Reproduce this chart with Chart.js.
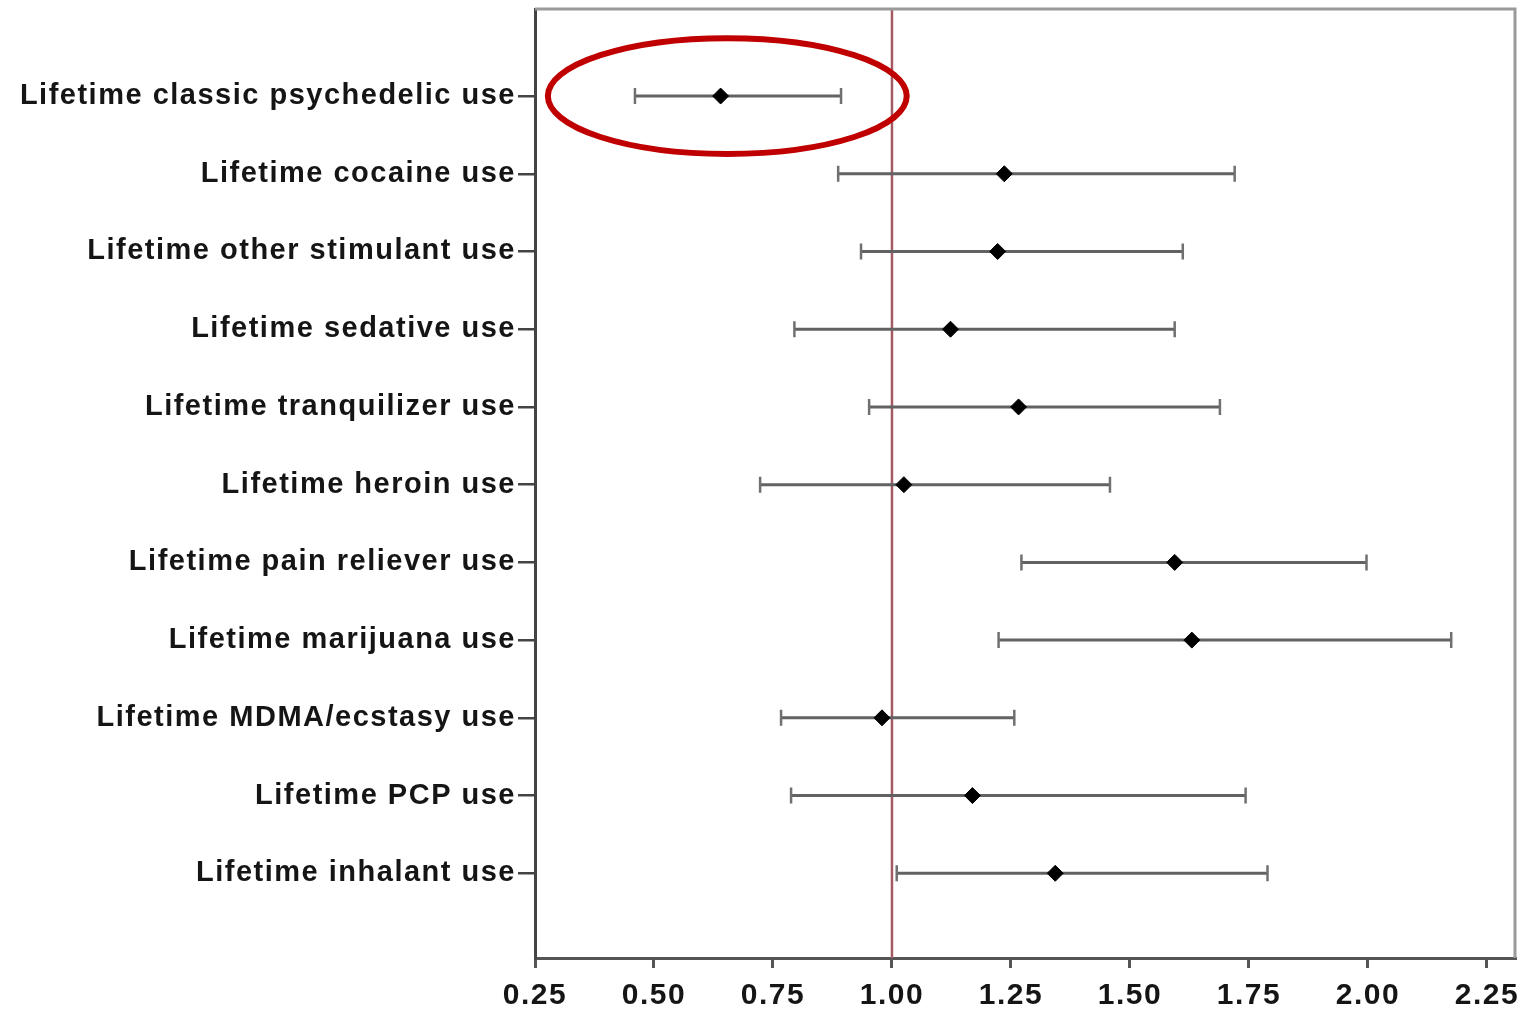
<!DOCTYPE html>
<html>
<head>
<meta charset="utf-8">
<script src="https://cdn.jsdelivr.net/npm/chart.js@4"></script>
<style>
  html, body { margin: 0; padding: 0; background: #fff; }
  #wrap { width: 1524px; height: 1012px; }
</style>
</head>
<body>
<div id="wrap"><canvas id="myChart" width="1524" height="1012"></canvas></div>
<script>
// data
const categories = [
  "Lifetime classic psychedelic use",
  "Lifetime cocaine use",
  "Lifetime other stimulant use",
  "Lifetime sedative use",
  "Lifetime tranquilizer use",
  "Lifetime heroin use",
  "Lifetime pain reliever use",
  "Lifetime marijuana use",
  "Lifetime MDMA/ecstasy use",
  "Lifetime PCP use",
  "Lifetime inhalant use"
];
const estimate = [0.64, 1.236, 1.222, 1.123, 1.266, 1.025, 1.594, 1.630, 0.979, 1.169, 1.343];
const lower    = [0.46, 0.887, 0.935, 0.795, 0.952, 0.723, 1.272, 1.224, 0.767, 0.788, 1.010];
const upper    = [0.893, 1.720, 1.611, 1.594, 1.689, 1.458, 1.997, 2.175, 1.257, 1.743, 1.789];
const xTicks   = [0.25, 0.50, 0.75, 1.00, 1.25, 1.50, 1.75, 2.00, 2.25];
const refValue = 1.0;

const points = estimate.map((v, i) => ({ x: v, y: i }));

// wider letter spacing like the original figure
const spacing = {
  id: 'spacing',
  beforeUpdate(chart) { chart.ctx.letterSpacing = '1.5px'; },
  beforeDraw(chart) { chart.ctx.letterSpacing = '1.5px'; }
};

// error bars + reference line, drawn through the scales
const errorBars = {
  id: 'errorBars',
  beforeDatasetsDraw(chart) {
    const { ctx, chartArea, scales: { x, y } } = chart;
    ctx.save();
    // reference line at 1.00
    const rx = x.getPixelForValue(refValue);
    ctx.strokeStyle = '#a35a62';
    ctx.lineWidth = 2.5;
    ctx.beginPath();
    ctx.moveTo(rx, chartArea.top);
    ctx.lineTo(rx, chartArea.bottom);
    ctx.stroke();
    // whiskers
    for (let i = 0; i < estimate.length; i++) {
      const py = y.getPixelForValue(i);
      const x1 = x.getPixelForValue(lower[i]);
      const x2 = x.getPixelForValue(upper[i]);
      ctx.strokeStyle = '#626262';
      ctx.lineWidth = 3;
      ctx.beginPath();
      ctx.moveTo(x1, py);
      ctx.lineTo(x2, py);
      ctx.stroke();
      ctx.strokeStyle = '#707070';
      ctx.lineWidth = 2.5;
      ctx.beginPath();
      ctx.moveTo(x1, py - 8); ctx.lineTo(x1, py + 8);
      ctx.moveTo(x2, py - 8); ctx.lineTo(x2, py + 8);
      ctx.stroke();
    }
    ctx.restore();
  },
  afterDraw(chart) {
    const { ctx, chartArea, scales: { x, y } } = chart;
    ctx.save();
    // frame: top and right light grey
    ctx.strokeStyle = '#9a9a9a';
    ctx.lineWidth = 3;
    ctx.beginPath();
    ctx.moveTo(chartArea.left, chartArea.top);
    ctx.lineTo(chartArea.right, chartArea.top);
    ctx.lineTo(chartArea.right, chartArea.bottom);
    ctx.stroke();
    // red ellipse around the first row
    const cx = x.getPixelForValue(0.654);
    const rX = x.getPixelForValue(0.654 + 0.377) - cx;
    const cy = y.getPixelForValue(0);
    const rY = y.getPixelForValue(0.745) - cy;
    ctx.strokeStyle = '#c00000';
    ctx.lineWidth = 6;
    ctx.beginPath();
    ctx.ellipse(cx, cy, rX, rY, 0, 0, Math.PI * 2);
    ctx.stroke();
    ctx.restore();
  }
};

const config = {
  type: 'scatter',
  data: {
    datasets: [{
      data: points,
      pointStyle: 'rectRot',
      pointRadius: 8,
      backgroundColor: '#000',
      borderColor: '#000',
      borderWidth: 1
    }]
  },
  options: {
    responsive: false,
    animation: false,
    layout: { padding: { top: 8, right: 6, left: 0, bottom: 0 } },
    plugins: { legend: { display: false }, tooltip: { enabled: false } },
    scales: {
      x: {
        type: 'linear',
        min: 0.25,
        max: 2.309,
        afterBuildTicks(scale) { scale.ticks = xTicks.map(v => ({ value: v })); },
        afterFit(scale) { scale.height = 54; scale.paddingLeft = 0; scale.paddingRight = 0; },
        ticks: {
          color: '#151515',
          font: { family: 'Liberation Sans', size: 30, weight: 'bold' },
          padding: 10,
          maxRotation: 0,
          callback: v => v.toFixed(2)
        },
        grid: { drawOnChartArea: false, tickLength: 10, tickColor: '#555', lineWidth: 3 },
        border: { color: '#555', width: 3 }
      },
      y: {
        type: 'linear',
        reverse: true,
        min: -1.12,
        max: 11.09,
        afterBuildTicks(scale) { scale.ticks = categories.map((c, i) => ({ value: i })); },
        afterFit(scale) { scale.width = 535; scale.paddingTop = 0; scale.paddingBottom = 0; },
        ticks: {
          color: '#151515',
          font: { family: 'Liberation Sans', size: 29, weight: 'bold' },
          padding: 2,
          callback: v => categories[v]
        },
        grid: { drawOnChartArea: false, tickLength: 17, tickColor: '#444', lineWidth: 2.5 },
        border: { color: '#444', width: 3 }
      }
    }
  },
  plugins: [spacing, errorBars]
};

var myChart = new Chart(document.getElementById('myChart'), config);
</script>
</body>
</html>
